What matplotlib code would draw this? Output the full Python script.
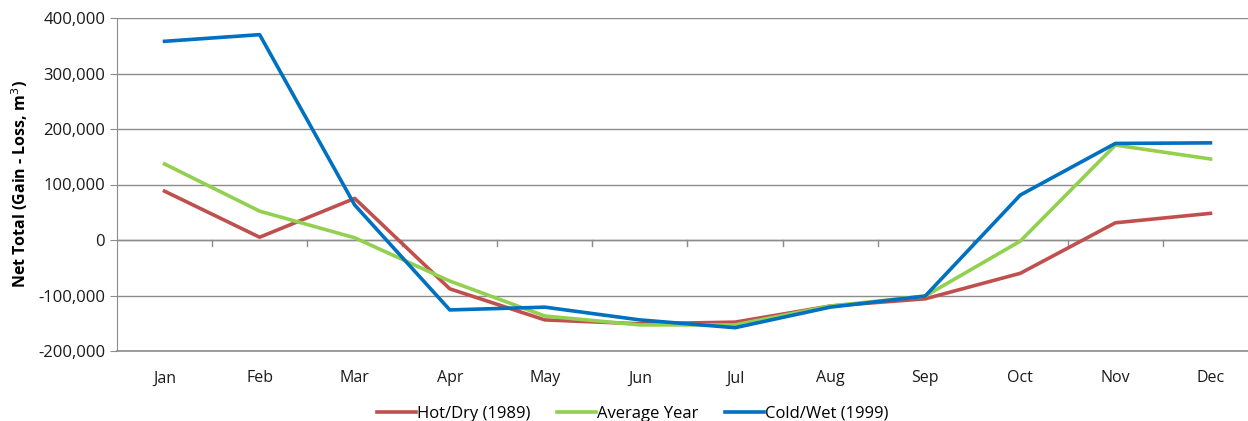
import matplotlib.pyplot as plt
from matplotlib.ticker import FuncFormatter
import numpy as np

months = ["Jan", "Feb", "Mar", "Apr", "May", "Jun", "Jul", "Aug", "Sep", "Oct", "Nov", "Dec"]
hot_dry = [88000, 5000, 75000, -88000, -144000, -151000, -148000, -119000, -106000, -60000, 31000, 48000]
average = [137000, 52000, 4000, -74000, -137000, -153000, -153000, -119000, -101000, -2000, 171000, 146000]
cold_wet = [358000, 370000, 63000, -126000, -121000, -144000, -158000, -121000, -101000, 81000, 174000, 175000]

plt.rcParams['font.family'] = ['Open Sans', 'DejaVu Sans']

fig = plt.figure(figsize=(12.48, 4.21), dpi=100)
ax = fig.add_axes([117 / 1248, 70 / 421, 1141 / 1248, 333 / 421])

x = np.arange(len(months))
ax.plot(x, hot_dry, color="#C0504D", lw=2.6, label="Hot/Dry (1989)")
ax.plot(x, average, color="#92D050", lw=2.6, label="Average Year")
ax.plot(x, cold_wet, color="#0070C0", lw=2.6, label="Cold/Wet (1999)")

ax.set_xlim(-0.5, 11.5)
ax.set_ylim(-200000, 400000)
ax.set_yticks(np.arange(-200000, 400001, 100000))
ax.yaxis.set_major_formatter(FuncFormatter(lambda v, p: f"{int(v):,}"))
ax.grid(axis="y", color="#8C8C8C", lw=1)
ax.axhline(-200000, color="#8C8C8C", lw=1.2, clip_on=False, zorder=0)
ax.set_axisbelow(True)

for s in ["top", "right", "bottom"]:
    ax.spines[s].set_visible(False)
ax.spines["left"].set_color("#8C8C8C")
ax.tick_params(axis="y", length=5, colors="#8C8C8C", labelcolor="#1a1a1a", labelsize=12)

# month labels below the plot, tick marks on the zero line
ax.set_xticks(x)
ax.set_xticklabels(months)
ax.tick_params(axis="x", length=0, labelsize=11.5, labelcolor="#1a1a1a", pad=14)
ax.axhline(0, color="#8C8C8C", lw=1, zorder=0)
for xv in np.arange(0.5, 11.5, 1.0):
    ax.plot([xv, xv], [0, -10000], color="#8C8C8C", lw=1, zorder=0)

ax.set_ylabel("Net Total (Gain - Loss, m$^{3}$)", fontsize=11.5, fontweight="bold", labelpad=6)

fig.legend(loc="center", bbox_to_anchor=(633 / 1248, 7 / 421), ncol=3, frameon=False,
           fontsize=12, handlelength=2.3, handletextpad=0.1, columnspacing=1.6)

fig.savefig("out.png", dpi=100)
